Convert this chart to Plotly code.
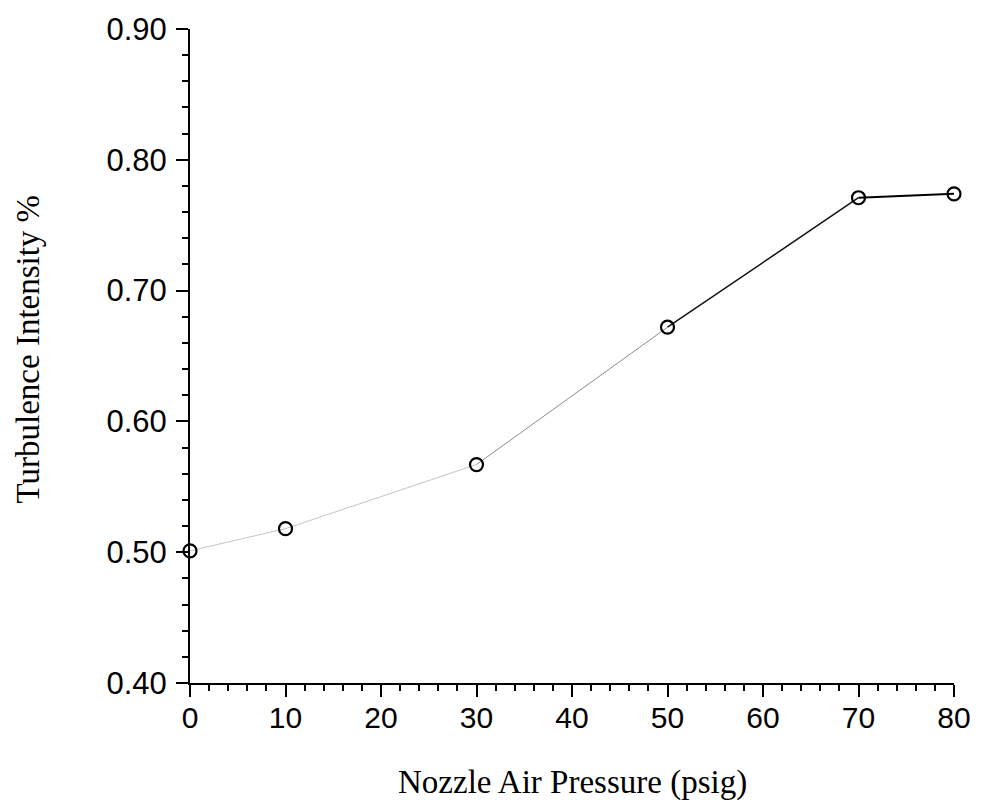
import plotly.graph_objects as go

# Measured turbulence intensity versus nozzle air pressure
pressure_psig = [0, 10, 30, 50, 70, 80]
turbulence_pct = [0.501, 0.518, 0.567, 0.672, 0.771, 0.774]

# Each connecting segment has its own shade and weight
segment_colors = ["#c4c4c4", "#c4c4c4", "#8c8c8c", "#111111", "#000000"]
segment_widths = [1, 1, 1, 1.5, 2]

x_ticks = [0, 10, 20, 30, 40, 50, 60, 70, 80]
y_ticks = [0.40, 0.50, 0.60, 0.70, 0.80, 0.90]

fig = go.Figure()

for i in range(len(pressure_psig) - 1):
    fig.add_trace(go.Scatter(
        x=pressure_psig[i:i + 2],
        y=turbulence_pct[i:i + 2],
        mode="lines",
        line=dict(color=segment_colors[i], width=segment_widths[i]),
        hoverinfo="skip",
        showlegend=False,
    ))

fig.add_trace(go.Scatter(
    x=pressure_psig,
    y=turbulence_pct,
    mode="markers",
    marker=dict(symbol="circle-open", size=13, color="black",
                line=dict(color="black", width=2.2)),
    cliponaxis=False,
    showlegend=False,
))

axis_common = dict(
    showgrid=False, zeroline=False,
    showline=True, linecolor="black", linewidth=2,
    ticks="outside", ticklen=12, tickwidth=2, tickcolor="black",
)
sans = "Liberation Sans, Arial, sans-serif"
serif = "Liberation Serif, Times New Roman, serif"

fig.update_layout(
    width=983, height=808,
    margin=dict(l=190, r=25, t=25, b=125),
    paper_bgcolor="white", plot_bgcolor="white",
    xaxis=dict(range=[0, 80], tickvals=x_ticks,
               tickfont=dict(family=sans, size=30, color="black"),
               minor=dict(dtick=2, ticks="outside", ticklen=6, tickwidth=2, tickcolor="black"),
               ticklabelstandoff=-5,
               **axis_common),
    yaxis=dict(range=[0.4, 0.9], tickvals=y_ticks, tickformat=".2f",
               tickfont=dict(family=sans, size=31, color="black"),
               minor=dict(dtick=0.02, ticks="outside", ticklen=6, tickwidth=2, tickcolor="black"),
               ticklabelstandoff=3,
               **axis_common),
    annotations=[
        dict(text="Nozzle Air Pressure (psig)", xref="paper", yref="paper",
             x=0.5, y=0, yanchor="middle", xanchor="center", yshift=-99,
             showarrow=False,
             font=dict(family=serif, size=33, color="black")),
        dict(text="Turbulence Intensity %", xref="paper", yref="paper",
             x=0, y=0.51, xanchor="center", yanchor="middle", xshift=-162,
             textangle=-90, showarrow=False,
             font=dict(family=serif, size=33, color="black")),
    ],
)

fig.write_html("out.html")
